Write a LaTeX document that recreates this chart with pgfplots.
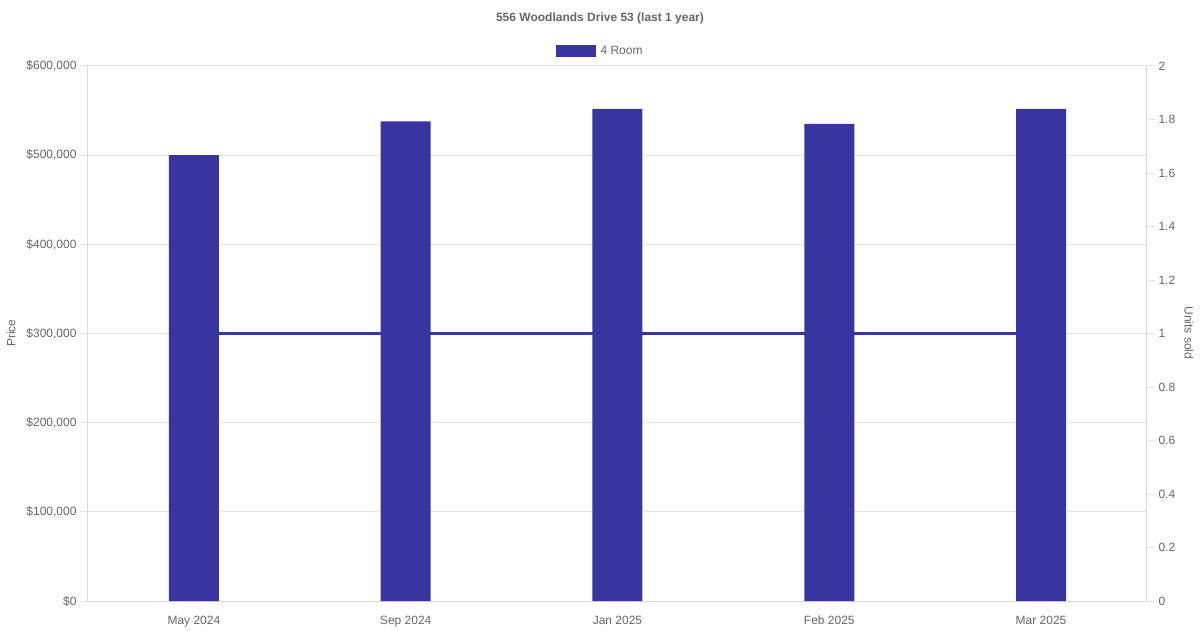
\documentclass[border=0pt]{standalone}
\usepackage{fontspec}
\setmainfont{Liberation Sans}
\usepackage{pgfplots}
\pgfplotsset{compat=1.18}
\definecolor{barc}{HTML}{3834A0}
\definecolor{txt}{HTML}{666666}
\definecolor{gridc}{HTML}{E5E5E5}
\definecolor{axisc}{HTML}{D9D9D9}

\begin{document}
\begin{tikzpicture}[x=1pt,y=1pt]
\useasboundingbox (0,0) rectangle (1200,630);
\pgfplotsset{every axis/.append style={
    scale only axis, width=1059pt, height=535pt,
    at={(88pt,29pt)}, anchor=south west,
    xmin=-0.5, xmax=4.5,
    ticklabel style={font=\fontsize{12}{14}\selectfont, text=txt},
    /pgf/number format/assume math mode=true}}

% left axis: price, grid
\begin{axis}[
    ymin=0, ymax=600000, scaled y ticks=false,
    axis x line*=bottom, axis y line*=left,
    axis line style={-, axisc, line width=1pt},
    ytick={0,100000,...,600000},
    yticklabels={\$0,{\$100,000},{\$200,000},{\$300,000},{\$400,000},{\$500,000},{\$600,000}},
    xtick={0,...,4},
    xticklabels={May 2024,Sep 2024,Jan 2025,Feb 2025,Mar 2025},
    ymajorgrids, grid style={gridc, line width=1pt},
    tick align=outside, major tick length=8pt,
    ytick style={gridc, line width=1pt},
    xtick style={draw=none},
    xticklabel style={text height=9pt, text depth=2.5pt, yshift=-3pt},
]
\end{axis}

% right axis: units sold
\begin{axis}[
    ymin=0, ymax=2,
    axis y line*=right, axis x line=none,
    axis line style={-, axisc, line width=1pt},
    ytick={0,0.2,...,2},
    yticklabels={0,0.2,0.4,0.6,0.8,1,1.2,1.4,1.6,1.8,2},
    tick align=outside, major tick length=8pt,
    ytick style={gridc, line width=1pt},
]
\addplot[barc, line width=3pt] coordinates {(0,1) (1,1) (2,1) (3,1) (4,1)};
\end{axis}

% bars
\begin{axis}[
    hide axis,
    ymin=0, ymax=600000,
    ybar, bar width=50pt, bar shift=0pt,
    legend style={at={(0.4835,1.028)}, anchor=center, draw=none, fill=none,
        font=\fontsize{12}{14}\selectfont, text=txt,
        /tikz/every odd column/.append style={column sep=3pt}},
    legend image code/.code={\fill[barc] (0pt,-6pt) rectangle (40pt,6pt);},
]
\addplot[fill=barc, draw=none] coordinates {(0,500000) (1,538000) (2,552000) (3,535000) (4,552000)};
\addlegendentry{4 Room}
\end{axis}

\node[font=\bfseries\fontsize{12}{14}\selectfont, text=txt] at (600,612) {556 Woodlands Drive 53 (last 1 year)};
\node[font=\fontsize{12}{14}\selectfont, text=txt, rotate=90] at (11,297) {Price};
\node[font=\fontsize{12}{14}\selectfont, text=txt, rotate=-90] at (1189,297) {Units sold};
\end{tikzpicture}
\end{document}
